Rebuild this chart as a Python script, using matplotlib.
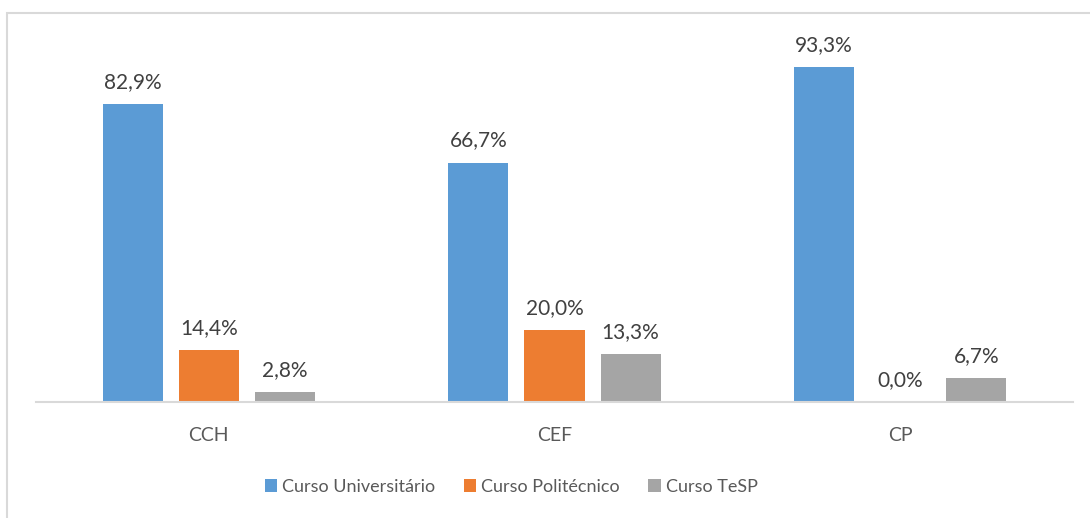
import matplotlib.pyplot as plt
from matplotlib.patches import Rectangle
import numpy as np

categories = ['CCH', 'CEF', 'CP']
series_names = ['Curso Universitário', 'Curso Politécnico', 'Curso TeSP']
universitario = [82.9, 66.7, 93.3]
politecnico = [14.4, 20.0, 0.0]
tesp = [2.8, 13.3, 6.7]
colors = ['#5B9BD5', '#ED7D31', '#A5A5A5']

plt.rcParams['font.family'] = ['Lato', 'DejaVu Sans']

fig = plt.figure(figsize=(10.9, 5.18), dpi=100)
ax = fig.add_axes([36/1090, 1 - 402/518, 1037/1090, 359/518])

x = np.arange(len(categories))
w = 0.1736
offsets = [-0.22, 0.0, 0.22]
for vals, off, c, name in zip([universitario, politecnico, tesp], offsets, colors, series_names):
    bars = ax.bar(x + off, vals, width=w, color=c, label=name)
    for b, v in zip(bars, vals):
        ax.annotate(f'{v:.1f}%'.replace('.', ','),
                    (b.get_x() + b.get_width() / 2, v),
                    xytext=(0, 11.5), textcoords='offset points',
                    ha='center', va='baseline', fontsize=15, color='#404040')

ax.set_xlim(-0.5, 2.5)
ax.set_ylim(0, 100)
ax.set_xticks(x)
ax.set_xticklabels(categories, fontsize=14, color='#595959')
ax.tick_params(axis='x', length=0, pad=18)
ax.set_yticks([])
for s in ['top', 'right', 'left']:
    ax.spines[s].set_visible(False)
ax.spines['bottom'].set_color('#d9d9d9')
ax.spines['bottom'].set_linewidth(1.5)

leg = fig.legend(loc='center', bbox_to_anchor=(511/1090, 1 - 487/518), ncol=3,
                 frameon=False, fontsize=13, handlelength=0.7, handleheight=0.7,
                 handletextpad=0.25, columnspacing=1.6)
for t in leg.get_texts():
    t.set_color('#595959')

fig.add_artist(Rectangle((7/1090, -0.1), 1.2, 1 - 13/518 + 0.1, transform=fig.transFigure,
                         fill=False, edgecolor='#d9d9d9', linewidth=1.5))

fig.savefig('out.png', dpi=100)
